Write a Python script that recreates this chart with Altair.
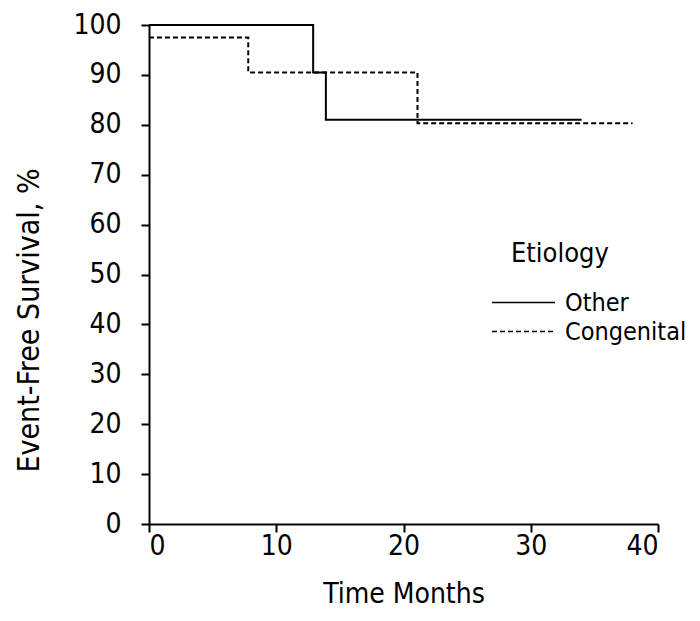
import altair as alt
import pandas as pd

FONT = "Liberation Sans Narrow, DejaVu Sans Condensed, sans-serif"

other_t = [0, 12.9, 13.9, 34]
other_s = [100, 90.5, 81, 81]
cong_t = [0, 7.8, 21.1, 38]
cong_s = [97.5, 90.5, 80.3, 80.3]

groups = ["Other", "Congenital"]

rows = []
for i, (t, s) in enumerate(zip(other_t, other_s)):
    rows.append({"time": t, "surv": s, "Etiology": "Other", "o": i})
for i, (t, s) in enumerate(zip(cong_t, cong_s)):
    rows.append({"time": t, "surv": s, "Etiology": "Congenital", "o": i})
df = pd.DataFrame(rows)

chart = alt.Chart(df).mark_line(
    interpolate="step-after", color="black", strokeWidth=2
).encode(
    x=alt.X("time:Q", title="Time Months",
            scale=alt.Scale(domain=[0, 40], nice=False),
            axis=alt.Axis(values=[0, 10, 20, 30, 40], grid=False)),
    y=alt.Y("surv:Q", title="Event-Free Survival, %",
            scale=alt.Scale(domain=[0, 100], nice=False),
            axis=alt.Axis(values=list(range(0, 101, 10)), grid=False,
                          titleY=295, titleFontSize=30)),
    strokeDash=alt.StrokeDash(
        "Etiology:N",
        scale=alt.Scale(domain=groups, range=[[1, 0], [5, 3]]),
        legend=alt.Legend(
            title="\u00a0\u00a0\u00a0Etiology",
            orient="none", legendX=362, legendY=216,
            symbolType="M-3,0L3,0", symbolSize=441,
            symbolStrokeColor="black", symbolStrokeWidth=1.6,
            labelFontSize=25, titleFontSize=27, titleFontWeight="normal",
            labelFont=FONT, titleFont=FONT, labelColor="black", titleColor="black",
            rowPadding=3, titlePadding=22, labelOffset=29,
        ),
    ),
    order="o:Q",
).properties(
    width=509, height=499,
    autosize="none",
    padding={"left": 141, "top": 17, "right": 34, "bottom": 88},
).configure_view(
    stroke=None
).configure_axis(
    domainColor="black", domainWidth=2, tickColor="black", tickWidth=2,
    tickSize=8, labelColor="black", titleColor="black",
    labelFont=FONT, titleFont=FONT, labelFontSize=28, titleFontSize=28,
    titleFontWeight="normal",
).configure_axisY(
    labelPadding=20, titlePadding=28
).configure_axisX(
    labelPadding=0, titlePadding=20
)

chart.save("out.html", embed_options={"renderer": "svg", "actions": False})
